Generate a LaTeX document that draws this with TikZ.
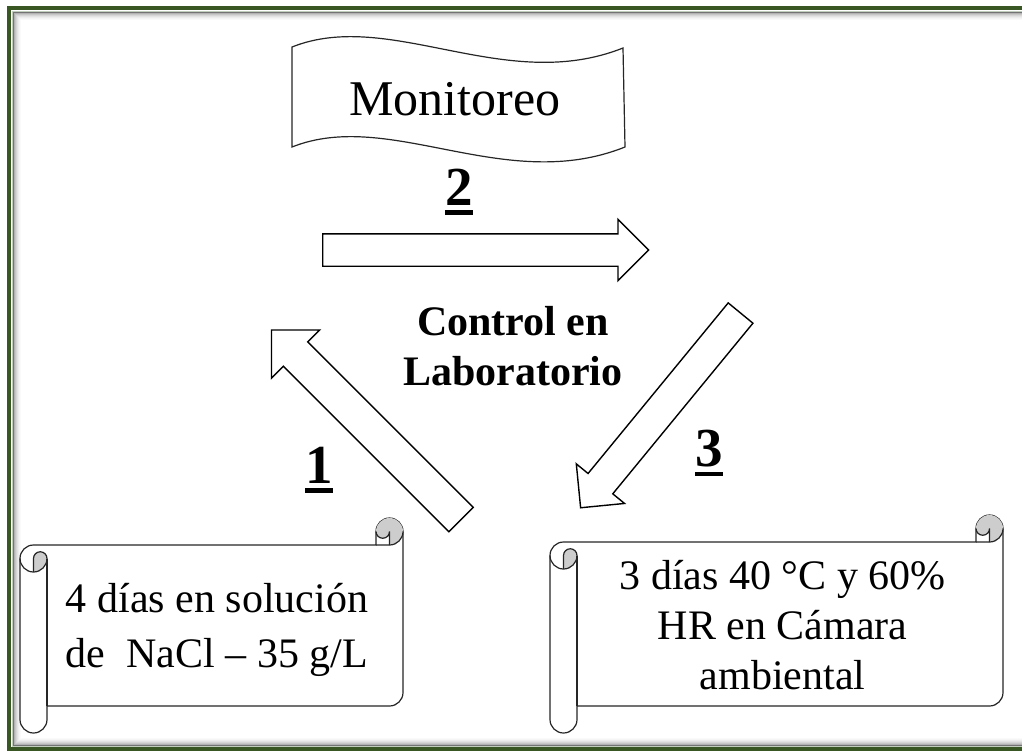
\documentclass[tikz,border=0pt]{standalone}
\usepackage{fontspec}
\setmainfont{Liberation Serif}
\usetikzlibrary{shapes.arrows}
\definecolor{framegreen}{HTML}{385723}
\definecolor{curlgrey}{HTML}{CDCDCD}
\newcommand{\ulnum}[1]{\leavevmode\vtop{\hbox{#1}\kern2.5pt\hrule height 2.4pt}}
\newcommand{\scrollbox}[4]{% left, top, right, bottom
  \draw[scrollline, fill=white] (#1,#2+40.5) arc[start angle=180, end angle=270, radius=13.5]
    -- (#3-27,#2+27) -- (#3-27,#2+13.5) arc[start angle=180, end angle=360, radius=13.5]
    -- (#3,#4-40.5) arc[start angle=0, end angle=90, radius=13.5]
    -- (#1+27,#4-27) -- (#1+27,#4-13.5) arc[start angle=0, end angle=180, radius=13.5] -- cycle;
  \fill[curlgrey] (#1+13.5,#2+54) arc[start angle=90, end angle=0, radius=13.5]
    arc[start angle=0, end angle=-180, radius=6.75] -- cycle;
  \fill[curlgrey] (#3-13.5,#2+27) arc[start angle=90, end angle=-180, radius=13.5]
    arc[start angle=180, end angle=0, radius=6.75] -- cycle;
  \draw[scrollline] (#3-27,#2+27) -- (#3-13.5,#2+27) arc[start angle=90, end angle=0, radius=13.5];
  \draw[scrollline] (#3-13.5,#2+27) -- (#3-13.5,#2+13.5) arc[start angle=0, end angle=180, radius=6.75];
  \draw[scrollline] (#1+13.5,#2+54) -- (#1+13.5,#2+40.5) arc[start angle=180, end angle=360, radius=6.75]
    arc[start angle=0, end angle=180, radius=13.5];
  \draw[scrollline] (#1+27,#2+40.5) -- (#1+27,#4-27);
}

\begin{document}
\begin{tikzpicture}
                [
                x=0.5pt, y=-0.5pt,
                scrollline/.style={draw=black!85, line width=0.6pt},
                bannerline/.style={draw=black!85, line width=0.6pt},
                blockarrow/.style={single arrow, draw=black, line width=0.7pt, fill=white, inner xsep=0pt, anchor=tail, single arrow tip angle=90},
                numlabel/.style={anchor=base, inner sep=0pt, font=\fontsize{27.5}{33}\selectfont\bfseries},
                scrolltext/.style={align=center, inner sep=0pt},
                ]
                \useasboundingbox (0,0) rectangle (1022,750);
                % frame
                \draw[framegreen, line width=2pt] (1022,8) -- (9,8) -- (9,748.5) -- (1022,748.5);
                \draw[framegreen!30, line width=0.5pt] (1022,11) -- (12,11) -- (12,746.5) -- (1022,746.5);
                \foreach \i/\g in {0/55,1/30,2/22,3/16,4/11,5/7,6/4,7/2}
                    \draw[black!\g, line width=0.5pt] (1022,12.5+\i) -- (13+\i,12.5+\i) -- (13+\i,745.5-\i) -- (1022,745.5-\i);
                % banner
                \draw[bannerline, fill=white] (292,47) .. controls (390,8) and (505,95) .. (623,48)
                    -- (625,147) .. controls (505,195) and (390,108) .. (292,147) -- cycle;
                \node[anchor=base, font=\fontsize{25}{30}\selectfont] (monitoreo) at (455,115) {Monitoreo};
                % arrows
                \node[blockarrow, inner ysep=7.75pt, single arrow head extend=7.25pt, minimum height=163pt] (flecha2) at (322,250) {};
                \node[blockarrow, inner ysep=8.25pt, single arrow head extend=8.4pt, minimum height=134pt, rotate=135] (flecha1) at (461.5,520) {};
                \node[blockarrow, inner ysep=7.65pt, single arrow head extend=7.6pt, minimum height=126pt, rotate=230.6] (flecha3) at (741,312.5) {};
                \node[numlabel] (paso2) at (459,205) {\ulnum{2}};
                \node[numlabel] (paso1) at (319,483) {\ulnum{1}};
                \node[numlabel] (paso3) at (709,466) {\ulnum{3}};
                \node[align=center, font=\fontsize{21}{25}\selectfont\bfseries] (control) at (513,346) {Control en\\Laboratorio};
                % scrolls
                \scrollbox{20}{518}{403}{733}
                \scrollbox{550}{515}{1003}{733}
                \node[scrolltext, font=\fontsize{21}{27.5}\selectfont] (solucion) at (217,629.5) {4 días en solución\\de\ \ NaCl -- 35 g/L};
                \node[scrolltext, font=\fontsize{21}{25}\selectfont] (camara) at (782.5,625.5) {3 días 40 °C y 60\%\\HR en Cámara\\ambiental};
            \end{tikzpicture}
\end{document}
